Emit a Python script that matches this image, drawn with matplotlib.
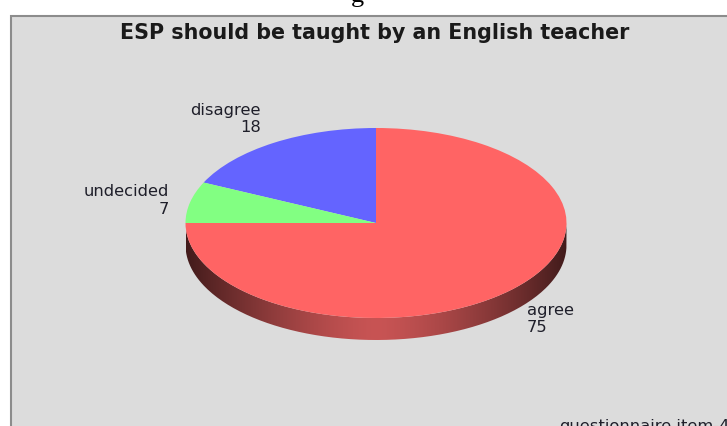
import numpy as np
import matplotlib
matplotlib.use("Agg")
import matplotlib.pyplot as plt
from matplotlib.patches import Rectangle, PathPatch
from matplotlib.path import Path

categories = ["agree", "disagree", "undecided"]
values = [75, 18, 7]
colors = ["#ff6464", "#6464ff", "#82ff82"]
title = "ESP should be taught by an English teacher"
source = "questionnaire.item-4"

W, H = 727, 426
plt.rcParams["font.family"] = ["DejaVu Sans"]
fig = plt.figure(figsize=(W / 100, H / 100), dpi=100, facecolor="white")

bg = fig.add_axes([0, 0, 1, 1])
bg.set_xlim(0, W)
bg.set_ylim(H, 0)
bg.axis("off")
bg.set_zorder(-1)
bg.add_patch(Rectangle((11, 15.5), W + 20, H, fc="#dcdcdc", ec="#8c8c8c", lw=1.5, zorder=0))

cx, cy, rx, ry, depth = 376, 223, 190.5, 95, 22
d = depth / ry

# pie axes: x and y scale independently so the unit circle becomes the tilted ellipse
ax = fig.add_axes([(cx - rx) / W, (H - cy - ry - depth) / H, 2 * rx / W, (2 * ry + depth) / H])
ax.patch.set_alpha(0)
ax.pie(values, colors=colors, startangle=180, counterclock=True, radius=1,
       wedgeprops=dict(lw=0), frame=False)

# side wall with a horizontal shading gradient
th = np.linspace(np.pi, 2 * np.pi, 200)
top = np.c_[np.cos(th), np.sin(th)]
bot = np.c_[np.cos(th[::-1]), np.sin(th[::-1]) - d]
verts = np.r_[top, bot, top[:1]]
wall = PathPatch(Path(verts), transform=ax.transData, fc="none", ec="none")
ax.add_patch(wall)
xs = np.linspace(-1, 1, 400)
t = np.abs(xs) ** 1.4
c0 = np.array([0xc8, 0x54, 0x54]) / 255
c1 = np.array([0x42, 0x1b, 0x1b]) / 255
grad = (c0[None, :] * (1 - t[:, None]) + c1[None, :] * t[:, None])[None, :, :]
im = ax.imshow(grad, extent=(-1, 1, -1 - d, 0), aspect="auto", zorder=0.5, interpolation="bilinear")
im.set_clip_path(wall)
ax.set_aspect("auto")
ax.set_xlim(-1, 1)
ax.set_ylim(-1 - d, 1)

ov = fig.add_axes([0, 0, 1, 1])
ov.set_xlim(0, W)
ov.set_ylim(H, 0)
ov.axis("off")
ov.set_zorder(5)
txt = dict(color="#1f1f2a", va="center", fontsize=11.8)
ov.text(375, 33, title, ha="center", va="center", fontsize=14.85, fontweight="bold", color="#1a1a1a")
ov.text(261, 111, categories[1], ha="right", **txt)
ov.text(261, 128, str(values[1]), ha="right", **txt)
ov.text(169, 192, categories[2], ha="right", **txt)
ov.text(169, 209, str(values[2]), ha="right", **txt)
ov.text(527, 310, categories[0], ha="left", **txt)
ov.text(527, 327, str(values[0]), ha="left", **txt)
ov.text(559, 427, source, ha="left", **txt)
# fragment of the caption above the panel, cropped by the top edge
ov.text(357, 2, "g", ha="center", va="baseline", fontsize=19, family="Liberation Serif", color="black")

fig.savefig("out.png", dpi=100, facecolor="white")
